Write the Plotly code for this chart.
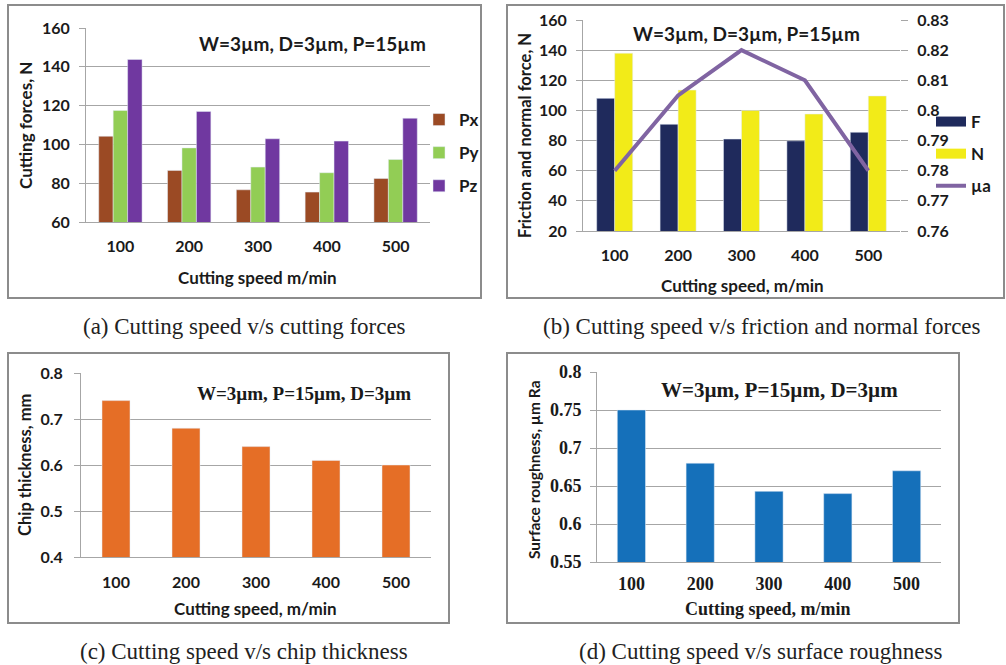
import plotly.graph_objects as go

W, H = 1006, 665

speeds = ["100", "200", "300", "400", "500"]

# (a) cutting forces
px_vals = [104.2, 86.6, 76.6, 75.4, 82.4]
py_vals = [117.5, 98.2, 88.3, 85.4, 92.2]
pz_vals = [143.8, 117.0, 102.9, 101.7, 113.5]

# (b) friction and normal forces, friction coefficient
f_vals = [108.0, 90.8, 81.0, 79.8, 85.5]
n_vals = [138.0, 113.5, 100.0, 97.6, 109.6]
mu_vals = [0.780, 0.805, 0.820, 0.810, 0.780]

# (c) chip thickness
chip_vals = [0.74, 0.68, 0.64, 0.61, 0.60]

# (d) surface roughness
ra_vals = [0.75, 0.68, 0.643, 0.64, 0.67]

SANS = "Lato"
SERIF = "Liberation Serif"
GRID = "#A6A6A6"
TXT = "#1a1a1a"


def fx(p):
    return p / W


def fy(p):
    return 1 - p / H


fig = go.Figure()

# ---------- (a) ----------
wa = 0.21
for name, vals, col, off in [("Px", px_vals, "#9B4A24", -1.5 * wa),
                             ("Py", py_vals, "#92CD55", -0.5 * wa),
                             ("Pz", pz_vals, "#7038A0", 0.5 * wa)]:
    fig.add_trace(go.Bar(x=speeds, y=vals, name=name, marker_color=col,
                         width=wa, offset=off, xaxis="x", yaxis="y",
                         legend="legend", legendgroup=name))

# ---------- (b) ----------
wb = 0.284
fig.add_trace(go.Bar(x=speeds, y=f_vals, name="F", marker_color="#1F2A5C",
                     width=wb, offset=-wb, xaxis="x2", yaxis="y2", showlegend=False))
fig.add_trace(go.Bar(x=speeds, y=n_vals, name="N", marker_color="#F2EB18",
                     width=wb, offset=0, xaxis="x2", yaxis="y2", showlegend=False))
fig.add_trace(go.Scatter(x=speeds, y=mu_vals, name="µa", mode="lines",
                         line=dict(color="#8064A2", width=4), xaxis="x2", yaxis="y3",
                         showlegend=False))
# legend entries for (b) (Excel style wide keys)
for name, col, lw in [("F", "#1F2A5C", 10), ("N", "#F2EB18", 10), ("µa", "#8064A2", 4)]:
    fig.add_trace(go.Scatter(x=[None], y=[None], name=name, mode="lines",
                             line=dict(color=col, width=lw), xaxis="x2", yaxis="y2",
                             legend="legend2", legendgroup=name))

# ---------- (c) ----------
fig.add_trace(go.Bar(x=speeds, y=chip_vals, marker_color="#E56E26", width=0.4,
                     offset=-0.2, xaxis="x3", yaxis="y4", showlegend=False))

# ---------- (d) ----------
fig.add_trace(go.Bar(x=speeds, y=ra_vals, marker_color="#1570BA", width=0.41,
                     offset=-0.205, xaxis="x4", yaxis="y5", showlegend=False))


def xax(x0, x1, anchor, font, standoff):
    return dict(domain=[fx(x0), fx(x1)], anchor=anchor, type="category",
                range=[-0.5, 4.5], showline=True, linecolor=GRID, linewidth=1,
                ticks="", showgrid=False, tickfont=font, ticklabelstandoff=standoff,
                fixedrange=True, automargin=False)


def yax(y0, y1, anchor, rng, dtick, font, standoff):
    return dict(domain=[fy(y1), fy(y0)], anchor=anchor, range=rng, dtick=dtick,
                showline=True, linecolor=GRID, linewidth=1, ticks="outside",
                ticklen=6, tickcolor=GRID, showgrid=True, gridcolor=GRID,
                gridwidth=1, zeroline=False, tickfont=font,
                ticklabelstandoff=standoff, fixedrange=True, automargin=False)


sans_tick = dict(family=SANS, size=16, color=TXT, weight="bold")
serif_tick = dict(family=SERIF, size=18, color=TXT, weight="bold")

layout = dict(
    width=W, height=H, margin=dict(l=0, r=0, t=0, b=0, pad=0, autoexpand=False),
    paper_bgcolor="white", plot_bgcolor="white", barmode="overlay",
    xaxis=xax(86, 430, "y", sans_tick, 10),
    yaxis=yax(28, 222, "x", [60, 160], 20, sans_tick, 6),
    xaxis2=xax(583, 900, "y2", sans_tick, 10),
    yaxis2=yax(20, 231, "x2", [20, 160], 20, sans_tick, 6),
    yaxis3=dict(domain=[fy(231), fy(20)], anchor="x2", overlaying="y2", side="right",
                range=[0.76, 0.83], dtick=0.01, showline=False, ticks="outside",
                ticklen=7, tickcolor=GRID, showgrid=False, zeroline=False,
                tickfont=sans_tick, ticklabelstandoff=6, fixedrange=True,
                automargin=False),
    xaxis3=xax(81, 431, "y4", sans_tick, 11),
    yaxis4=yax(373, 557, "x3", [0.4, 0.8], 0.1, sans_tick, 8),
    xaxis4=xax(597, 941, "y5", serif_tick, 5),
    yaxis5=yax(372, 562, "x4", [0.55, 0.8], 0.05, serif_tick, 5),
    legend=dict(x=fx(419), y=fy(102), xanchor="left", yanchor="top",
                font=dict(family=SANS, size=17, color=TXT, weight="bold"),
                bgcolor="rgba(0,0,0,0)", tracegroupgap=8, itemwidth=30),
    legend2=dict(x=fx(931), y=fy(104), xanchor="left", yanchor="top",
                 font=dict(family=SANS, size=17, color=TXT, weight="bold"),
                 bgcolor="rgba(0,0,0,0)", tracegroupgap=7, itemwidth=30),
)
fig.update_layout(**layout)

anns = []


def ann(text, x, y, font, angle=0, xanchor="center"):
    anns.append(dict(text=text, x=fx(x), y=fy(y), xref="paper", yref="paper",
                     showarrow=False, font=font, textangle=angle, xanchor=xanchor,
                     yanchor="middle"))


sans_title = dict(family=SANS, size=17, color=TXT, weight="bold")
sans_ytitle = dict(family=SANS, size=16.5, color=TXT, weight="bold")
cap_font = dict(family=SERIF, size=23, color="#222222")
note_font = dict(family=SANS, size=19, color=TXT, weight="bold")

# (a)
ann("W=3µm, D=3µm, P=15µm", 312, 44, note_font)
ann("Cutting speed m/min", 257, 277, sans_title)
ann("Cutting forces, N", 25, 126, dict(family=SANS, size=17, color=TXT, weight="bold"), -90)
ann("(a) Cutting speed v/s cutting forces", 244, 326, cap_font)
# (b)
ann("W=3µm, D=3µm, P=15µm", 746, 34, note_font)
ann("Cutting speed, m/min", 742, 285, sans_title)
ann("Friction and normal force, N", 525, 136, sans_ytitle, -90)
ann("(b) Cutting speed v/s friction and normal forces", 762, 326, cap_font)
# (c)
ann("W=3µm, P=15µm, D=3µm", 304, 393, dict(family=SERIF, size=19, color=TXT, weight="bold"))
ann("Cutting speed, m/min", 255, 608, sans_title)
ann("Chip thickness, mm", 25, 465, dict(family=SANS, size=16.5, color=TXT, weight="bold"), -90)
ann("(c) Cutting speed v/s chip thickness", 244, 651, cap_font)
# (d)
ann("W=3µm, P=15µm, D=3µm", 779, 390, dict(family=SERIF, size=21, color=TXT, weight="bold"))
ann("Cutting speed, m/min", 768, 609, dict(family=SERIF, size=18, color=TXT, weight="bold"))
ann("Surface roughness, µm Ra", 534, 470, dict(family=SANS, size=15.5, color=TXT, weight="bold"), -90)
ann("(d) Cutting speed v/s surface roughness", 761, 651, cap_font)

fig.update_layout(annotations=anns)

# panel frames
shapes = []
for x0, y0, x1, y1 in [(8, 5, 481, 298), (507, 5, 1004, 298),
                       (8, 353, 449, 623), (507, 353, 959, 623)]:
    shapes.append(dict(type="rect", xref="paper", yref="paper",
                       x0=fx(x0), x1=fx(x1), y0=fy(y1), y1=fy(y0),
                       line=dict(color="#8C8C8C", width=2), fillcolor="rgba(0,0,0,0)",
                       layer="below"))
fig.update_layout(shapes=shapes)

fig.write_html("out.html", config={"displayModeBar": False},
               post_script="document.body.style.margin='0';document.body.style.padding='0';")
